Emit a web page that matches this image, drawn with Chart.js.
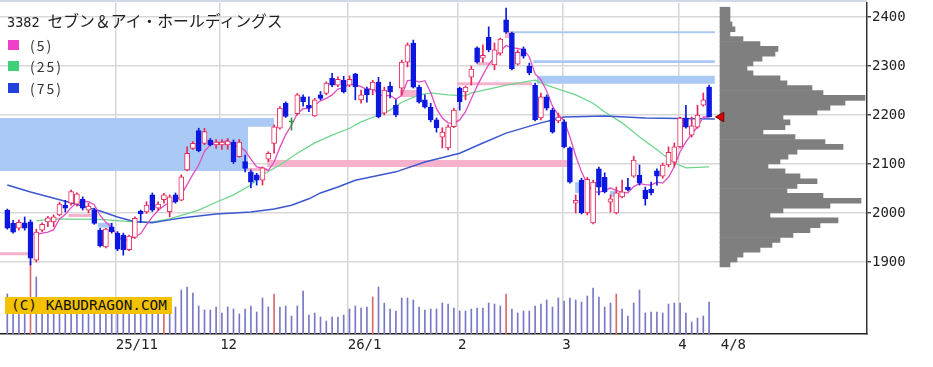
<!DOCTYPE html>
<html><head><meta charset="utf-8">
<script src="https://cdn.jsdelivr.net/npm/chart.js@4.4.1/dist/chart.umd.min.js"></script>
<style>
html,body{margin:0;padding:0;background:#fff;}
#wrap{position:relative;width:933px;height:367px;overflow:hidden;background:#fff;}
#main{position:absolute;left:0;top:0;}
#prof{position:absolute;left:712px;top:3px;}
#topline{position:absolute;left:0;top:0;width:867px;height:2px;background:#d4d6ea;}
#title{position:absolute;left:7px;top:11px;white-space:nowrap;line-height:20px;color:#222;}
#title .code{font-family:"DejaVu Sans Mono",monospace;font-size:13.5px;margin-right:8px;}
#title .name{font-family:"Noto Sans CJK JP",sans-serif;font-size:15.8px;}
.sw{position:absolute;left:8px;width:11px;height:10px;}
.lg{position:absolute;left:30px;font-family:"Noto Sans CJK JP",sans-serif;font-size:14px;letter-spacing:2px;line-height:18px;color:#333;}
#copy{position:absolute;left:5px;top:297px;width:161px;height:17px;padding-left:6px;background:#f4c200;
 font-family:"DejaVu Sans Mono",monospace;font-size:14.4px;line-height:17px;color:#111;white-space:nowrap;}
</style></head>
<body>
<div id="wrap">
 <canvas id="main" width="933" height="367"></canvas>
 <canvas id="prof" width="155" height="331"></canvas>
 <div id="topline"></div>
 <div id="title"><span class="code">3382</span><span class="name">セブン＆アイ・ホールディングス</span></div>
 <div class="sw" style="top:40px;background:#f040c8"></div><div class="lg" style="top:36px">(5)</div>
 <div class="sw" style="top:61px;background:#40d078"></div><div class="lg" style="top:57px">(25)</div>
 <div class="sw" style="top:83px;background:#2040e0"></div><div class="lg" style="top:79px">(75)</div>
 <div id="copy">(C) KABUDRAGON.COM</div>
</div>
<script>
// ---------- data ----------
const tickIdx = [19, 37, 59, 78, 96, 116];
const tickLabels = ['25/11', '12', '26/1', '2', '3', '4'];
const lastLabel = '4/8';
const priceTicks = [1900, 2000, 2100, 2200, 2300, 2400];

const opens = [2006,1979,1969,1980,1982,1904,1965,1982,1982,1996,
2016,2020,2018,2028,2006,2006,1965,1931,1972,1959,
1955,1925,1950,2004,2002,2037,2010,2027,2003,2037,
2026,2088,2132,2168,2142,2149,2139,2139,2139,2145,
2115,2105,2084,2078,2067,2110,2142,2173,2224,2186,
2203,2237,2220,2198,2241,2244,2275,2261,2271,2261,
2284,2231,2253,2251,2267,2204,2259,2220,2255,2308,
2347,2257,2231,2216,2190,2155,2133,2176,2255,2247,
2277,2337,2316,2359,2302,2326,2394,2367,2304,2335,
2300,2261,2194,2237,2210,2188,2186,2133,2020,2067,
2000,1980,2090,2073,2022,2000,2033,2053,2075,2077,
2047,2049,2086,2075,2098,2104,2135,2194,2159,2175,
2220,2257];
const highs = [2008,1985,1986,1992,1986,1967,1980,1993,1996,2022,
2026,2047,2041,2033,2020,2010,1969,1969,1979,1962,
1959,1955,1992,2006,2023,2041,2023,2040,2037,2041,
2078,2135,2146,2173,2173,2152,2150,2150,2152,2149,
2150,2118,2088,2081,2094,2125,2180,2217,2227,2194,
2244,2241,2237,2234,2248,2268,2285,2278,2279,2280,
2285,2251,2257,2271,2277,2257,2267,2231,2312,2347,
2353,2261,2241,2224,2194,2174,2180,2214,2257,2259,
2300,2339,2343,2380,2347,2357,2418,2369,2333,2339,
2306,2265,2245,2241,2214,2204,2190,2135,2037,2071,
2073,2067,2094,2082,2037,2053,2067,2071,2116,2098,
2053,2063,2090,2102,2135,2143,2196,2220,2196,2220,
2245,2261];
const lows = [1967,1959,1965,1965,1894,1900,1962,1972,1972,1994,
2002,2016,2014,2006,2000,1977,1931,1929,1959,1923,
1914,1923,1948,1981,1999,2003,2006,2020,1992,2020,
2025,2086,2130,2125,2139,2137,2132,2130,2130,2101,
2114,2084,2051,2057,2057,2105,2122,2171,2195,2169,
2200,2218,2207,2197,2231,2241,2258,2258,2245,2258,
2231,2224,2226,2241,2194,2200,2235,2196,2241,2298,
2255,2224,2214,2186,2165,2133,2129,2174,2210,2231,
2261,2306,2308,2329,2292,2322,2367,2292,2302,2316,
2282,2188,2190,2210,2163,2184,2133,2061,2000,1998,
1996,1978,2037,2041,2002,1998,2031,2045,2073,2057,
2016,2037,2057,2071,2094,2094,2133,2173,2155,2173,
2218,2196];
const closes = [1969,1961,1981,1969,1908,1961,1977,1990,1992,2018,
2010,2044,2039,2010,2014,1979,1933,1967,1962,1926,
1925,1953,1989,1998,2016,2006,2018,2037,2033,2023,
2074,2122,2142,2127,2166,2139,2145,2145,2147,2105,
2145,2091,2063,2067,2092,2122,2176,2214,2197,2186,
2241,2227,2214,2231,2234,2265,2261,2273,2247,2273,
2258,2241,2241,2267,2196,2251,2247,2200,2308,2343,
2257,2226,2216,2190,2174,2165,2176,2210,2227,2257,
2294,2308,2322,2333,2333,2355,2369,2294,2328,2320,
2286,2190,2237,2214,2165,2196,2135,2063,2026,2000,
2069,2063,2053,2043,2029,2041,2043,2047,2108,2061,
2029,2041,2075,2098,2124,2135,2194,2175,2178,2200,
2231,2196];
const volumes = [40,30,28,26,72,57,32,30,27,33,
29,31,30,26,25,28,33,31,27,30,
34,32,30,28,29,31,27,30,28,27,
44,47,41,28,24,24,27,21,27,25,
20,25,28,22,36,27,40,27,28,18,
28,43,19,21,17,13,17,17,19,25,
28,26,27,37,47,31,25,23,36,36,
34,27,24,25,25,31,30,26,23,23,
25,26,26,31,30,28,40,25,21,23,
23,28,30,34,27,36,33,36,34,32,
38,46,37,27,31,40,25,18,31,44,
21,22,22,21,30,31,31,21,12,16,
18,32];
const sqIdx = [4, 27, 46, 63, 86, 105];

const ma5Start = 4;
const ma5 = [1958,1956,1959,1961,1966,1988,1997,2011,2021,2024,
2023,2017,1995,1981,1971,1953,1943,1947,1951,1958,
1976,1992,2005,2015,2022,2023,2037,2058,2079,2098,
2126,2139,2144,2144,2148,2136,2137,2127,2110,2094,
2092,2087,2104,2134,2160,2179,2203,2213,2213,2220,
2229,2234,2241,2253,2256,2264,2262,2258,2252,2256,
2241,2239,2240,2232,2240,2270,2271,2267,2270,2246,
2213,2194,2184,2183,2190,2207,2233,2259,2282,2303,
2318,2330,2342,2337,2336,2333,2319,2284,2272,2249,
2218,2200,2189,2155,2117,2084,2059,2044,2042,2046,
2051,2046,2042,2041,2054,2060,2058,2057,2063,2061,
2073,2095,2125,2145,2161,2176,2196,2196];

const ma25Idx = [5,8,16,22,25,28,30,33,36,39,42,44,47,50,53,56,59,61,64,66,68,71,73,76,79,80,83,86,89,91,93,95,98,101,103,106,109,112,115,117,121];
const ma25Val = [1984,1988,1987,1982,1982,1988,1995,2006,2022,2037,2057,2078,2098,2122,2143,2159,2173,2186,2200,2210,2226,2241,2245,2241,2239,2245,2253,2261,2267,2271,2261,2253,2241,2224,2206,2184,2155,2129,2102,2092,2094];

const ma75Idx = [0,4,10,16,19,22,25,28,30,33,36,39,42,46,49,52,54,57,60,67,72,78,82,86,92,94,96,103,110,122];
const ma75Val = [2057,2043,2024,2004,1992,1982,1980,1986,1990,1994,1998,2000,2002,2008,2016,2029,2041,2053,2067,2084,2104,2122,2143,2163,2184,2190,2196,2198,2194,2192];

// unfilled price gaps (窓)
const zoneStart = [-1.3, 41.5, -1.3, 10.5, 15.6, 31, 44.8, 67.7, 77.5, 81, 85.8, 87, 90.6, 91.3, 97.9, 103.9];
const zoneEnd   = [41.5, 46, 3.6, 15.6, 18, 44.8, 97, 71.2, 90.5, 84.1, 87.2, 122, 122, 122, 99.1, 105.1];
const zoneLow   = [2086, 2176, 1914, 1992, 1970, 2086, 2094, 2237, 2261, 2302, 2357, 2367, 2306, 2264, 2041, 2033];
const zoneHigh  = [2194, 2194, 1920, 1998, 1980, 2092, 2108, 2251, 2267, 2308, 2371, 2371, 2312, 2280, 2063, 2045];
const zoneKind  = ['down','down','up','up','down','up','up','up','up','up','up','down','down','down','down','down'];

// price-by-volume profile
const profPrice = [2415,2405,2395,2385,2375,2365,2355,2345,2335,2325,2315,2305,2295,2285,2275,2265,2255,2245,2235,2225,2215,2205,2195,2185,2175,2165,2155,2145,2135,2125,2115,2105,2095,2085,2075,2065,2055,2045,2035,2025,2015,2005,1995,1985,1975,1965,1955,1945,1935,1925,1915,1905,1895];
const profVol = [10,10,10,12,15,10,23,40,58,55,42,33,27,33,60,67,92,103,145,125,110,97,63,70,65,43,75,105,123,77,68,60,48,65,80,97,77,67,103,141,110,63,50,118,100,90,73,60,52,40,23,17,10];

// ---------- chart ----------
const Y_MIN = 1753.1, Y_MAX = 2428.6;
const X_MIN = -1.2586, X_MAX = 148.224;
const colUp = '#e6285a', colDn = '#0c18e0', colDoji = '#2a9a3a';
const dir = opens.map((o, i) => closes[i] > o ? 1 : (closes[i] < o ? -1 : 0));
const edge = dir.map(d => d > 0 ? colUp : (d < 0 ? colDn : colDoji));
const bodyFill = dir.map(d => d > 0 ? '#ffffff' : (d < 0 ? colDn : colDoji));
const zoneColor = {up: '#f6b2cc', down: '#aac9f4'};
const XD = 'xd';
const noPad = s => { s.paddingTop = 0; s.paddingBottom = 0; s.paddingLeft = 0; s.paddingRight = 0; };

const datasets = [];
zoneStart.forEach((s, k) => {
  datasets.push({type: 'line', xAxisID: XD, data: [{x: s, y: zoneLow[k]}, {x: zoneEnd[k], y: zoneLow[k]}],
    borderColor: 'rgba(0,0,0,0)', borderWidth: 0, pointRadius: 0, fill: false, order: 20});
  datasets.push({type: 'line', xAxisID: XD, data: [{x: s, y: zoneHigh[k]}, {x: zoneEnd[k], y: zoneHigh[k]}],
    borderColor: 'rgba(0,0,0,0)', borderWidth: 0, pointRadius: 0, fill: '-1',
    backgroundColor: zoneColor[zoneKind[k]], order: 20});
});
datasets.push({type: 'bar', xAxisID: XD, data: volumes.map((v, i) => ({x: i, y: v})), yAxisID: 'yv',
  backgroundColor: volumes.map((v, i) => sqIdx.includes(i) ? '#d86a6a' : '#7878c6'),
  barPercentage: 1, categoryPercentage: 1, maxBarThickness: 1, grouped: false, order: 15});
datasets.push({type: 'line', xAxisID: XD, data: ma75Idx.map((x, k) => ({x, y: ma75Val[k]})),
  borderColor: '#3c58d0', borderWidth: 1.5, pointRadius: 0, fill: false, tension: 0, order: 8});
datasets.push({type: 'line', xAxisID: XD, data: ma25Idx.map((x, k) => ({x, y: ma25Val[k]})),
  borderColor: '#70d48c', borderWidth: 1.3, pointRadius: 0, fill: false, tension: 0, order: 8});
datasets.push({type: 'line', xAxisID: XD, data: ma5.map((v, k) => ({x: k + ma5Start, y: v})),
  borderColor: '#e04cc4', borderWidth: 1.3, pointRadius: 0, fill: false, tension: 0, order: 7});
datasets.push({type: 'bar', xAxisID: XD, data: opens.map((o, i) => ({x: i, y: [lows[i], highs[i]]})),
  backgroundColor: edge, barPercentage: 1, categoryPercentage: 1, maxBarThickness: 1, grouped: false, order: 3});
datasets.push({type: 'bar', xAxisID: XD, data: opens.map((o, i) => ({x: i, y: [o, closes[i]]})),
  backgroundColor: bodyFill, borderColor: edge, borderWidth: 1, borderSkipped: false,
  barPercentage: 1, categoryPercentage: 1, maxBarThickness: 5, minBarLength: 1, grouped: false, order: 2});

const axisFont = {family: 'DejaVu Sans Mono', size: 14};
new Chart(document.getElementById('main'), {
  type: 'bar',
  data: {datasets},
  options: {
    responsive: false, animation: false, events: [],
    layout: {autoPadding: false, padding: {top: 3, left: 0, right: 0, bottom: 0}},
    plugins: {legend: {display: false}, tooltip: {enabled: false}},
    scales: {
      x: {
        type: 'linear', min: X_MIN, max: X_MAX, offset: false, bounds: 'data',
        afterBuildTicks: s => {
          s.ticks = tickIdx.map(i => ({value: i - 0.3})).concat([{value: closes.length + 1}]);
        },
        afterFit: s => { s.height = 33; noPad(s); },
        ticks: {
          autoSkip: false, maxRotation: 0, align: 'start', padding: 3, color: '#222', font: axisFont,
          callback: (v, idx) => idx < tickLabels.length ? tickLabels[idx] : lastLabel
        },
        grid: {
          offset: false, drawTicks: false, lineWidth: 1.5,
          color: c => (c.index < tickLabels.length ? '#d6d6d6' : 'rgba(0,0,0,0)')
        },
        border: {display: true, color: '#222', width: 1.5}
      },
      xd: {
        type: 'linear', display: false, min: X_MIN, max: X_MAX, offset: false, bounds: 'data',
        afterBuildTicks: s => { s.ticks = []; }
      },
      y: {
        type: 'linear', position: 'right', min: Y_MIN, max: Y_MAX, beginAtZero: false, bounds: 'data',
        afterBuildTicks: s => { s.ticks = priceTicks.map(v => ({value: v})); },
        afterFit: s => { s.width = 66; noPad(s); },
        ticks: {color: '#222', font: axisFont, padding: 1, callback: v => String(v)},
        grid: {color: '#d8d8d8', lineWidth: 1.5, tickColor: '#444', tickLength: 4, drawTicks: true},
        border: {display: true, color: '#333', width: 1.5}
      },
      yv: {type: 'linear', display: false, min: 0, max: 331, beginAtZero: true,
        afterBuildTicks: s => { s.ticks = []; }}
    }
  }
});

// price-by-volume profile + last-close marker (1 x-unit = 1 px, base at page x 720)
new Chart(document.getElementById('prof'), {
  type: 'bar',
  data: {datasets: [
    {type: 'line', indexAxis: 'x', showLine: false, order: 0,
     data: [{x: 1, y: closes[closes.length - 1]}],
     pointStyle: 'triangle', pointRotation: -90, pointRadius: 5.5,
     pointBackgroundColor: '#e00000', pointBorderColor: '#700000', pointBorderWidth: 1},
    {type: 'bar', indexAxis: 'y', order: 5,
     data: profPrice.map((p, i) => ({x: profVol[i], y: p})),
     backgroundColor: '#7f7f7f', borderWidth: 0, barPercentage: 1, categoryPercentage: 1, grouped: false}
  ]},
  options: {
    indexAxis: 'y', responsive: false, animation: false, events: [],
    layout: {autoPadding: false, padding: 0},
    plugins: {legend: {display: false}, tooltip: {enabled: false}},
    scales: {
      y: {type: 'linear', display: false, min: Y_MIN, max: Y_MAX, offset: false, bounds: 'data',
        grid: {offset: false}, afterBuildTicks: s => { s.ticks = []; }},
      x: {type: 'linear', display: false, min: -8, max: 147, bounds: 'data',
        afterBuildTicks: s => { s.ticks = []; }}
    }
  }
});
</script>
</body></html>
